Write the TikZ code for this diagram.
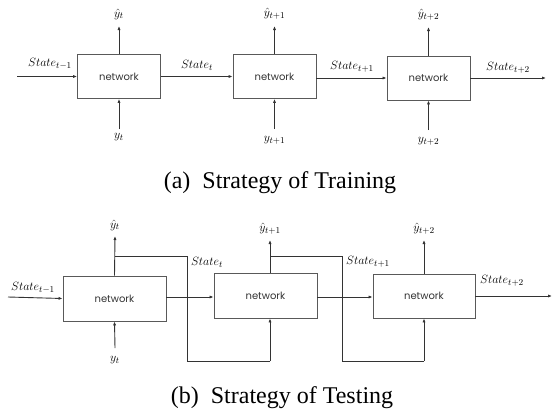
\documentclass[tikz,border=0pt]{standalone}
\usepackage{fontspec}
\setmainfont{Liberation Serif}
\newfontfamily\netfont{Poppins}
\usetikzlibrary{arrows.meta,calc}
\tikzset{
  netbox/.style={draw=black!65, line width=0.9pt, minimum width=83pt, minimum height=44pt, inner sep=0pt, font=\netfont\fontsize{10}{12}\selectfont, text=black!80},
  netboxb/.style={netbox, minimum width=103pt, minimum height=45pt},
  arr/.style={draw=black!80, line width=0.9pt, -{Latex[length=4pt,width=3.2pt]}},
  ln/.style={draw=black!80, line width=0.9pt},
  lab/.style={inner sep=0pt, font=\fontsize{12.5}{14}\selectfont},
  captext/.style={inner sep=0pt, font=\fontsize{24}{26}\selectfont}
}
\begin{document}
\begin{tikzpicture}[x=1pt,y=-1pt]
\useasboundingbox (0,0) rectangle (557,418);
% ---------- (a) ----------
\node[netbox] (B1) at (119,76.5) {network};
\node[netbox] (B2) at (274.5,76.5) {network};
\node[netbox] (B3) at (428.5,78) {network};
\coordinate (a0) at (17,76.5);
\coordinate (a3) at (546,78);
\coordinate (o1) at (119,26);
\coordinate (o2) at (274.5,26);
\coordinate (o3) at (428.5,27);
\coordinate (i1) at (119,129);
\coordinate (i2) at (274.5,129);
\coordinate (i3) at (428.5,130);
\draw[arr] (a0) -- (B1.west);
\draw[arr] (B1.east) -- (B2.west);
\draw[arr] (B2.east |- B3.west) -- (B3.west);
\draw[arr] (B3.east) -- (a3);
\draw[arr] (B1.north) -- (o1);
\draw[arr] (B2.north) -- (o2);
\draw[arr] (B3.north) -- (o3);
\draw[arr] (i1) -- (B1.south);
\draw[arr] (i2) -- (B2.south);
\draw[arr] (i3) -- (B3.south);
\node[lab] (la0) at (50,64) {$State_{t-1}$};
\node[lab] (la1) at (197,65) {$State_{t}$};
\node[lab] (la2) at (352,67) {$State_{t+1}$};
\node[lab] (la3) at (508,68) {$State_{t+2}$};
\node[lab] (ha1) at (119,14) {$\hat{y}_{t}$};
\node[lab] (ha2) at (274.5,14) {$\hat{y}_{t+1}$};
\node[lab] (ha3) at (428.5,15) {$\hat{y}_{t+2}$};
\node[lab] (ya1) at (119,137) {$y_{t}$};
\node[lab] (ya2) at (274.5,140) {$y_{t+1}$};
\node[lab] (ya3) at (428.5,141) {$y_{t+2}$};
\node[captext] (capa) at (280,183) {(a)\enspace Strategy of Training};
% ---------- (b) ----------
\node[netboxb] (C1) at (114.5,298.5) {network};
\node[netboxb] (C2) at (265.5,295.5) {network};
\node[netboxb, minimum width=102pt, minimum height=44pt] (C3) at (424,296) {network};
\coordinate (b0) at (8,297);
\coordinate (b3) at (552,296);
\coordinate (p1) at (115,236);
\coordinate (p2) at (270,240);
\coordinate (p3) at (424,240);
\coordinate (q1) at (115,348);
\coordinate (f1a) at (115,256);
\coordinate (f1b) at (187,256);
\coordinate (f1c) at (187,361);
\coordinate (f1d) at (270,361);
\coordinate (f2a) at (270,256);
\coordinate (f2b) at (342,256);
\coordinate (f2c) at (342,361);
\coordinate (f2d) at (424,361);
\draw[arr] (b0) -- (C1.west);
\draw[arr] (C1.east |- 0,297) -- (C2.west |- 0,297);
\draw[arr] (C2.east |- 0,297) -- (C3.west |- 0,297);
\draw[arr] (C3.east) -- (b3);
\draw[arr] (C1.north) -- (p1);
\draw[arr] ($(C2.north)+(4.5,0)$) -- (p2);
\draw[arr] (C3.north) -- (p3);
\draw[arr] (q1) -- (C1.south);
\draw[ln] (f1a) -- (f1b) -- (f1c) -- (f1d);
\draw[arr] (f1d) -- ($(C2.south)+(4.5,0)$);
\draw[ln] (f2a) -- (f2b) -- (f2c) -- (f2d);
\draw[arr] (f2d) -- (C3.south);
\node[lab] (lb0) at (33,288) {$State_{t-1}$};
\node[lab] (lb1) at (207,262) {$State_{t}$};
\node[lab] (lb2) at (368,262) {$State_{t+1}$};
\node[lab] (lb3) at (502,281) {$State_{t+2}$};
\node[lab] (hb1) at (115,225) {$\hat{y}_{t}$};
\node[lab] (hb2) at (270,229) {$\hat{y}_{t+1}$};
\node[lab] (hb3) at (424,229) {$\hat{y}_{t+2}$};
\node[lab] (yb1) at (115,360) {$y_{t}$};
\node[captext] (capb) at (282,398) {(b)\enspace Strategy of Testing};
\end{tikzpicture}
\end{document}
